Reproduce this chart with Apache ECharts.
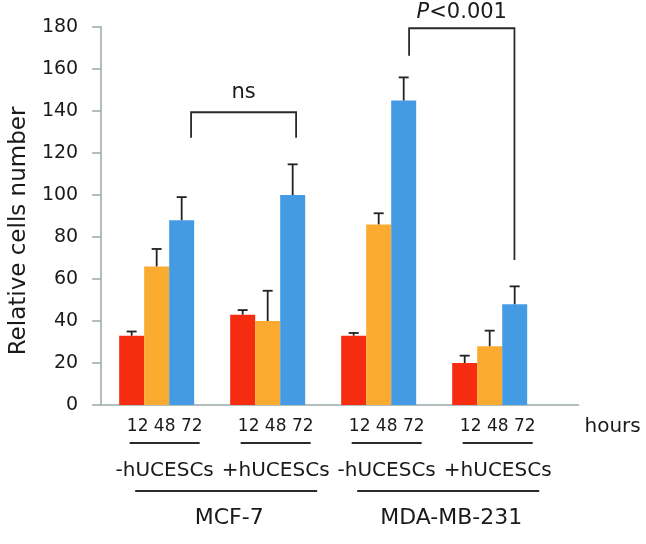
<!DOCTYPE html>
<html><head><meta charset="utf-8">
<script src="https://cdn.jsdelivr.net/npm/echarts@6/dist/echarts.min.js"></script>
<style>html,body{margin:0;padding:0;background:#fff}#c{width:646px;height:544px}</style>
</head><body><div id="c"></div>
<script>
// ---- data ----
const groups = ['-hUCESCs', '+hUCESCs', '-hUCESCs', '+hUCESCs'];
const timeLabels = ['12', '48', '72'];
const timeUnit = 'hours';
const cellLines = ['MCF-7', 'MDA-MB-231'];
const cellLineGroups = [[0, 1], [2, 3]];
const seriesNames = ['12 h', '48 h', '72 h'];
const values12 = [33, 43, 33, 20];
const errors12 = [2, 2.2, 1.3, 3.5];
const values48 = [66, 40, 86, 28];
const errors48 = [8.3, 14.4, 5.3, 7.4];
const values72 = [88, 100, 145, 48];
const errors72 = [11, 14.6, 11, 8.5];
const bracketLabels = ['ns', 'P<0.001'];
const bracketLeftX = [0.81, 2.774];
const bracketRightX = [1.756, 3.723];
const bracketTop = [139.4, 179.4];
const bracketLeftEnd = [127.3, 166.3];
const bracketRightEnd = [127.3, 69];
const yMin = 0, yMax = 180, yStep = 20;

// ---- styles ----
const FONT = '"DejaVu Sans", sans-serif';
const colors = ['#f52c10', '#fbab2f', '#459be3'];
const axisColor = '#9aa9ab';
const inkColor = '#1a1a1a';
const barW = 25;
const bracketLabelGap = [20, 16];
const xPad = 0.3;

const chart = echarts.init(document.getElementById('c'), null, {renderer: 'canvas'});

const valueSets = [values12, values48, values72];
const errorSets = [errors12, errors48, errors72];

const barSeries = valueSets.map((vals, k) => ({
  name: seriesNames[k],
  type: 'bar',
  barWidth: barW,
  barGap: '0%',
  itemStyle: {color: colors[k]},
  data: vals.map((v, i) => [i + 0.5, v]),
  z: 2
}));

const errData = [];
valueSets.forEach((vals, k) => vals.forEach((v, i) => errData.push([i + 0.5, v, errorSets[k][i], k])));

const errSeries = {
  type: 'custom',
  name: 'error',
  encode: {x: 0, y: 1},
  data: errData,
  z: 5,
  silent: true,
  renderItem: function (params, api) {
    const x = api.value(0), v = api.value(1), e = api.value(2), k = api.value(3);
    const p0 = api.coord([x, v]);
    const p1 = api.coord([x, v + e]);
    const px = p0[0] + (k - 1) * barW;
    const st = {stroke: '#222', lineWidth: 1.8};
    return {type: 'group', children: [
      {type: 'line', shape: {x1: px, y1: p0[1], x2: px, y2: p1[1]}, style: st},
      {type: 'line', shape: {x1: px - 5, y1: p1[1], x2: px + 5, y2: p1[1]}, style: st}
    ]};
  }
};

const annoSeries = {
  type: 'custom',
  name: 'annotations',
  data: [[0, 0]],
  encode: {x: 0, y: 1},
  clip: false,
  silent: true,
  z: 6,
  renderItem: function (params, api) {
    const ch = [];
    const y0 = api.coord([0, 0])[1];
    const lineSt = {stroke: '#2a2a2a', lineWidth: 1.8};
    groups.forEach((g, i) => {
      const cx = api.coord([i + 0.5, 0])[0] + 8;
      ch.push({type: 'text', style: {text: timeLabels.join(' '), x: cx, y: y0 + 22, align: 'center', verticalAlign: 'middle', font: '17px ' + FONT, fill: inkColor}});
      ch.push({type: 'line', shape: {x1: cx - 35, y1: y0 + 38, x2: cx + 35, y2: y0 + 38}, style: lineSt});
      ch.push({type: 'text', style: {text: g, x: cx, y: y0 + 66, align: 'center', verticalAlign: 'middle', font: '20px ' + FONT, fill: inkColor}});
    });
    const xEnd = api.coord([groups.length + xPad, 0])[0];
    ch.push({type: 'text', style: {text: timeUnit, x: xEnd + 6, y: y0 + 22, align: 'left', verticalAlign: 'middle', font: '20px ' + FONT, fill: inkColor}});
    cellLines.forEach((name, j) => {
      const a = cellLineGroups[j][0], b = cellLineGroups[j][1];
      const mid = (api.coord([a + 0.5, 0])[0] + api.coord([b + 0.5, 0])[0]) / 2;
      ch.push({type: 'line', shape: {x1: mid + 14 - 91, y1: y0 + 86, x2: mid + 14 + 91, y2: y0 + 86}, style: lineSt});
      ch.push({type: 'text', style: {text: name, x: mid + 17, y: y0 + 113, align: 'center', verticalAlign: 'middle', font: '22px ' + FONT, fill: inkColor}});
    });
    bracketLabels.forEach((lab, k) => {
      const pl = api.coord([bracketLeftX[k], bracketLeftEnd[k]]);
      const pt = api.coord([bracketLeftX[k], bracketTop[k]]);
      const pr = api.coord([bracketRightX[k], bracketRightEnd[k]]);
      ch.push({type: 'polyline', shape: {points: [[pl[0], pl[1]], [pl[0], pt[1]], [pr[0], pt[1]], [pr[0], pr[1]]]}, style: {stroke: '#2a2a2a', lineWidth: 1.8, fill: null}});
      const txt = lab.charAt(0) === 'P' ? '{i|P}' + lab.slice(1) : lab;
      ch.push({type: 'text', style: {text: txt, x: (pl[0] + pr[0]) / 2, y: pt[1] - bracketLabelGap[k], align: 'center', verticalAlign: 'middle', font: '21px ' + FONT, fill: inkColor, rich: {i: {fontStyle: 'italic', fontSize: 21, fontFamily: FONT, fill: inkColor}}}});
    });
    return {type: 'group', children: ch};
  }
};

chart.setOption({
  animation: false,
  backgroundColor: '#ffffff',
  grid: {left: 97, right: 67.5, top: 27, bottom: 139, containLabel: false},
  xAxis: {
    type: 'value', min: 0, max: groups.length + xPad,
    axisLine: {show: true, onZero: false, lineStyle: {color: axisColor, width: 1.5}},
    axisTick: {show: false}, axisLabel: {show: false}, splitLine: {show: false}
  },
  yAxis: {
    type: 'value', min: yMin, max: yMax, interval: yStep,
    axisLine: {show: true, lineStyle: {color: axisColor, width: 1.5}},
    axisTick: {show: true, length: 9, lineStyle: {color: axisColor, width: 1.5}},
    axisLabel: {margin: 23, fontFamily: FONT, fontSize: 19, color: inkColor},
    splitLine: {show: false},
    name: 'Relative cells number', nameLocation: 'middle', nameGap: 68,
    nameTextStyle: {fontFamily: FONT, fontSize: 23, color: inkColor, padding: [0, 30, 0, 0]}
  },
  series: barSeries.concat([errSeries, annoSeries])
});
</script></body></html>
